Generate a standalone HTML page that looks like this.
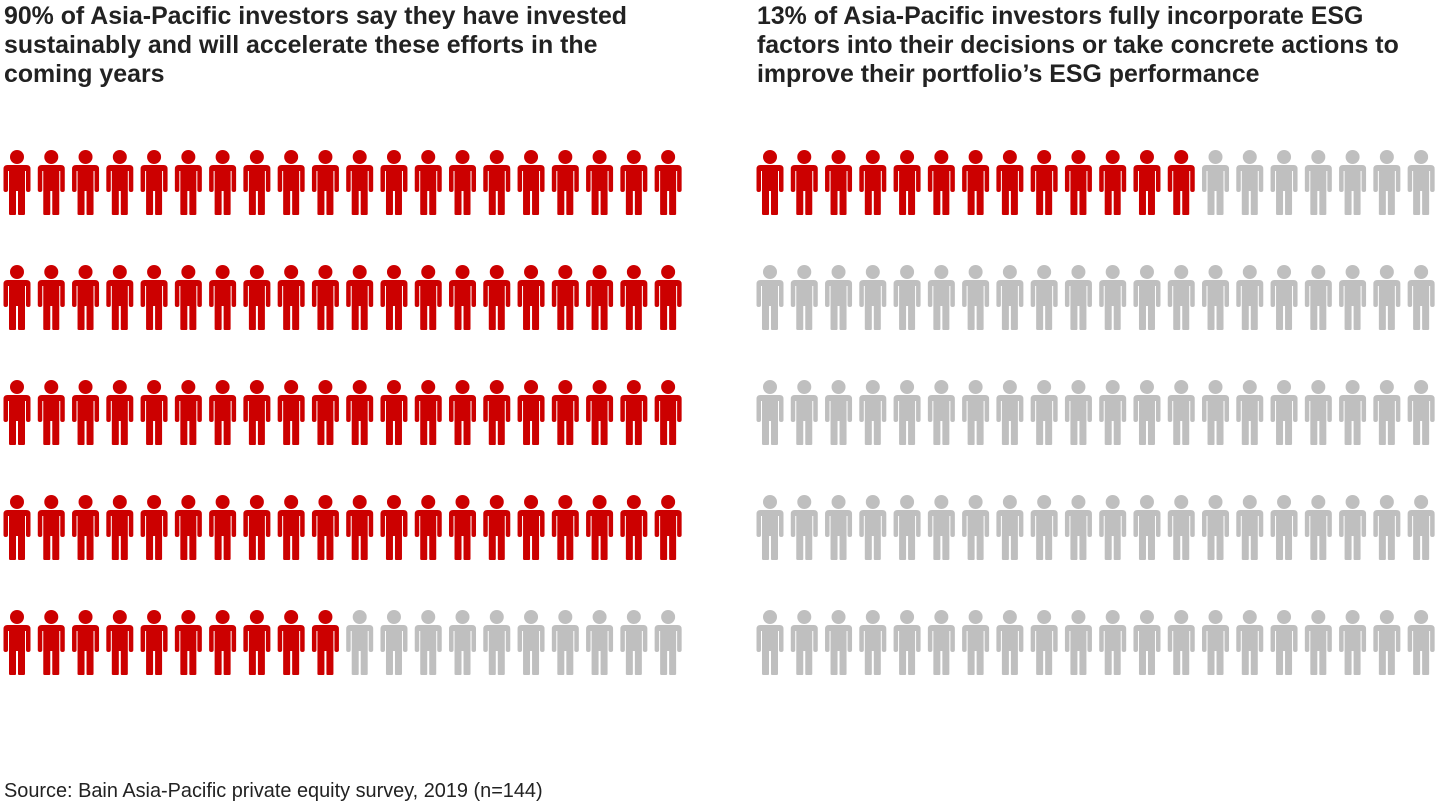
<!DOCTYPE html>
<html><head><meta charset="utf-8"><style>
body{margin:0;width:1440px;height:810px;background:#fff;font-family:"Liberation Sans",Arial,sans-serif;position:relative;overflow:hidden}
.t{position:absolute;top:2px;font-weight:bold;font-size:24.9px;line-height:29px;color:#222;white-space:nowrap}
.src{position:absolute;left:4px;top:780px;font-size:19.9px;color:#222;white-space:nowrap}
svg{position:absolute;left:0;top:0}
</style></head><body>
<div class="t" style="left:4px">90% of Asia-Pacific investors say they have invested<br>sustainably and will accelerate these efforts in the<br>coming years</div>
<div class="t" style="left:757px">13% of Asia-Pacific investors fully incorporate ESG<br>factors into their decisions or take concrete actions to<br>improve their portfolio’s ESG performance</div>
<svg id="chart" width="1440" height="810">
<defs><g id="person">
<circle cx="0" cy="0" r="7"/>
<path d="M-13.5,12 Q-13.5,8 -9.5,8 L9.5,8 Q13.5,8 13.5,12 L13.5,33 Q13.5,35 11.25,35 Q9,35 9,33 L9,14 L8,14 L8,57 Q8,58 6,58 L2,58 Q1,58 1,57 L1,34 L-1,34 L-1,57 Q-1,58 -2,58 L-6,58 Q-8,58 -8,57 L-8,14 L-9,14 L-9,33 Q-9,35 -11.25,35 Q-13.5,35 -13.5,33 Z"/>
</g></defs>
</svg>
<div class="src">Source: Bain Asia-Pacific private equity survey, 2019 (n=144)</div>
<script>
const panels = ["sustainably-invested", "fully-incorporate-esg"];
const percentValues = [90, 13];
const totalIcons = 100;
const cols = 20;
const ns = "http://www.w3.org/2000/svg";
const svg = document.getElementById('chart');
const panelX = [17, 770], dx = 34.27, row0 = 157, dy = 115;
panels.forEach((p, pi) => {
  const g = document.createElementNS(ns, 'g');
  
  
  svg.appendChild(g);
  for (let i = 0; i < totalIcons; i++) {
    const c = i % cols, r = Math.floor(i / cols);
    const u = document.createElementNS(ns, 'use');
    u.setAttribute('href', '#person');
    u.setAttribute('transform', `translate(${panelX[pi] + c * dx},${row0 + r * dy})`);
    u.setAttribute('fill', i < percentValues[pi] ? '#cc0000' : '#bfbfbf');
    
    
    g.appendChild(u);
  }
});
</script>
</body></html>
